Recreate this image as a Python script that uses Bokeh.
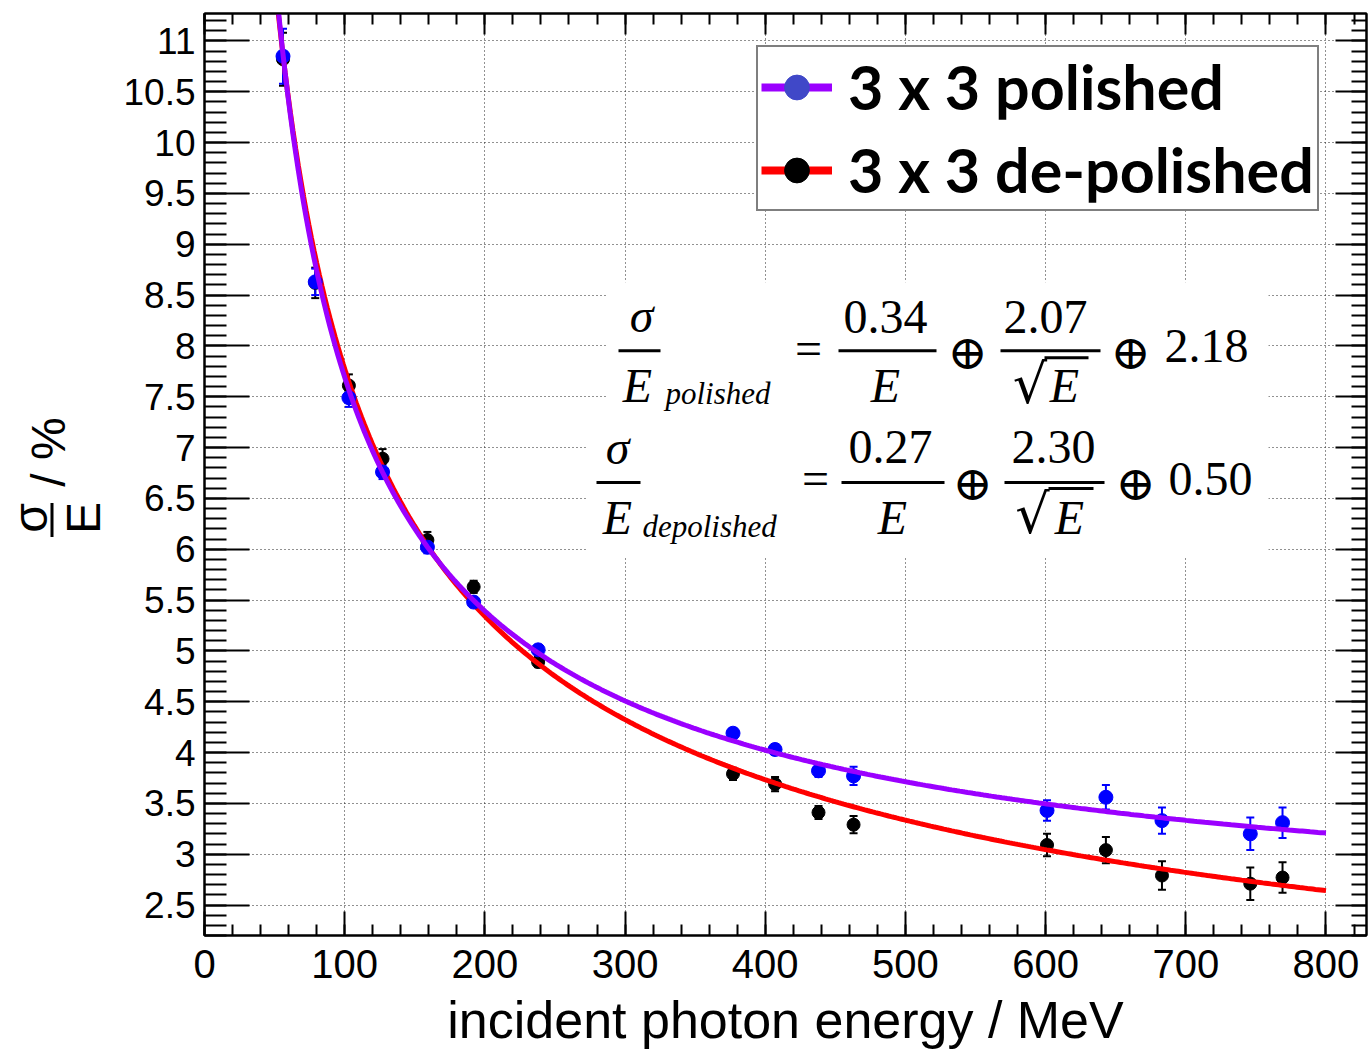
import numpy as np
from math import pi
from bokeh.plotting import figure
from bokeh.layouts import row
from bokeh.models import (Range1d, LinearAxis, FixedTicker, CustomJSTickFormatter, Whisker,
                          TeeHead, ColumnDataSource, Legend, LegendItem, Label, BoxAnnotation)
from bokeh.embed import file_html
from bokeh.resources import INLINE

# ---------------- data ----------------
energy_mev = [56, 79, 103, 127, 159, 192, 238, 377, 407, 438, 463, 601, 643, 683, 746, 769]
polished_res = [10.85, 8.63, 7.49, 6.76, 6.02, 5.48, 5.01, 4.19, 4.03, 3.82, 3.77, 3.43, 3.56, 3.33, 3.20, 3.31]
polished_err = [0.27, 0.13, 0.09, 0.07, 0.06, 0.05, 0.05, 0.05, 0.05, 0.06, 0.09, 0.10, 0.12, 0.13, 0.16, 0.15]
depolished_res = [10.82, 8.62, 7.61, 6.89, 6.09, 5.63, 4.89, 3.79, 3.69, 3.41, 3.29, 3.09, 3.04, 2.79, 2.71, 2.77]
depolished_err = [0.26, 0.15, 0.11, 0.095, 0.08, 0.06, 0.05, 0.06, 0.07, 0.065, 0.085, 0.11, 0.13, 0.14, 0.16, 0.15]

# fit parameters  sigma/E = a/E (+) b/sqrt(E) (+) c   (E in GeV)
fit_polished = [0.34, 2.07, 2.18]
fit_depolished = [0.27, 2.30, 0.50]
fit_range_mev = [50, 800]

x_ticks = [0, 100, 200, 300, 400, 500, 600, 700, 800]
x_minor_ticks = list(range(0, 841, 20))
y_ticks = [2.5, 3, 3.5, 4, 4.5, 5, 5.5, 6, 6.5, 7, 7.5, 8, 8.5, 9, 9.5, 10, 10.5, 11]
y_minor_ticks = [round(2.2 + 0.1 * i, 1) for i in range(92)]

legend_labels = ["3 x 3 polished", "3 x 3 de-polished"]
x_title = "incident photon energy / MeV"
y_title_parts = ["σ", "E", "/ %"]

# ---------------- style / geometry ----------------
PURPLE = "#9b00ff"
RED = "#ff0000"
BLUE = "#0000ff"
LEG_BLUE = "#4048c8"

W, H = 1368, 1051
LW = 110                      # width of the strip holding the y title
FL, FR, FT, FB = 204, 1366, 13, 936
X0, X1 = 0.0, 828.9
Y0, Y1 = 2.20, 11.27


def dx(px):
    return X0 + (px - FL) * (X1 - X0) / (FR - FL)


def dy(py):
    return Y1 - (py - FT) * (Y1 - Y0) / (FB - FT)


p = figure(width=W - LW, height=H, output_backend="svg", toolbar_location=None,
           x_range=Range1d(X0, X1), y_range=Range1d(Y0, Y1),
           min_border_left=FL - LW, min_border_right=W - FR, min_border_top=FT,
           min_border_bottom=H - FB, background_fill_color="white",
           border_fill_color="white")
p.outline_line_color = "black"
p.outline_line_width = 2

LABEL_FONT = "Liberation Sans"

xt = FixedTicker(ticks=x_ticks, minor_ticks=x_minor_ticks)
yt = FixedTicker(ticks=y_ticks, minor_ticks=y_minor_ticks)


def style_axis(ax):
    ax.major_tick_line_width = 2
    ax.minor_tick_line_width = 2
    ax.axis_line_width = 2
    ax.axis_line_color = "black"
    ax.major_tick_line_color = "black"
    ax.minor_tick_line_color = "black"


xa = p.xaxis[0]
xa.ticker = xt
xa.major_tick_in, xa.major_tick_out = 24, 0
xa.minor_tick_in, xa.minor_tick_out = 11, 0
style_axis(xa)
xa.major_label_text_font = LABEL_FONT
xa.major_label_text_font_size = "40px"
xa.major_label_text_color = "black"
xa.major_label_standoff = 14
xa.axis_label = x_title
xa.axis_label_text_font = LABEL_FONT
xa.axis_label_text_font_size = "52px"
xa.axis_label_text_font_style = "normal"
xa.axis_label_text_color = "black"
xa.axis_label_standoff = 10

ya = p.yaxis[0]
ya.ticker = yt
ya.formatter = CustomJSTickFormatter(code="return String(tick);")
ya.major_tick_in, ya.major_tick_out = 45, 0
ya.minor_tick_in, ya.minor_tick_out = 22, 0
style_axis(ya)
ya.major_label_text_font = LABEL_FONT
ya.major_label_text_font_size = "37px"
ya.major_label_text_color = "black"
ya.major_label_standoff = 9

top_axis = LinearAxis(ticker=xt, major_tick_in=21, major_tick_out=0, minor_tick_in=11,
                      minor_tick_out=0, major_label_text_font_size="1px",
                      major_label_text_color=None, major_label_standoff=0)
style_axis(top_axis)
p.add_layout(top_axis, "above")
right_axis = LinearAxis(ticker=yt, major_tick_in=31, major_tick_out=0, minor_tick_in=15,
                        minor_tick_out=0, major_label_text_font_size="1px",
                        major_label_text_color=None, major_label_standoff=0)
style_axis(right_axis)
p.add_layout(right_axis, "right")

for g in (p.xgrid[0], p.ygrid[0]):
    g.grid_line_color = "#222222"
    g.grid_line_dash = "1 3"
    g.grid_line_width = 1
p.xgrid[0].ticker = xt
p.ygrid[0].ticker = yt

# ---------------- data marks ----------------
def make_src(res, err):
    return ColumnDataSource(dict(
        x=energy_mev, y=res,
        upper=[v + e for v, e in zip(res, err)],
        lower=[v - e for v, e in zip(res, err)]))


src_pol = make_src(polished_res, polished_err)
src_dep = make_src(depolished_res, depolished_err)


def add_err(src, color):
    w = Whisker(source=src, base="x", upper="upper", lower="lower", dimension="height",
                line_color=color, line_width=2,
                upper_head=TeeHead(size=8, line_color=color, line_width=2),
                lower_head=TeeHead(size=8, line_color=color, line_width=2))
    p.add_layout(w)


def fit_curve(params):
    a, b, c = params
    e = np.linspace(fit_range_mev[0], fit_range_mev[1], 400)
    g = e / 1000.0
    return e, np.sqrt((a / g) ** 2 + (b / np.sqrt(g)) ** 2 + c ** 2)


add_err(src_dep, "black")
p.scatter("x", "y", source=src_dep, size=13, fill_color="black", line_color="black")
ex_d, ey_d = fit_curve(fit_depolished)
p.line(ex_d, ey_d, line_color=RED, line_width=5)

add_err(src_pol, BLUE)
p.scatter("x", "y", source=src_pol, size=14, fill_color=BLUE, line_color=BLUE)
ex_p, ey_p = fit_curve(fit_polished)
p.line(ex_p, ey_p, line_color=PURPLE, line_width=5)

# legend glyph renderers (hidden in the plot, only drawn inside the legend)
lp_line = p.line(ex_p, ey_p, line_color=PURPLE, line_width=8, visible=False)
lp_pt = p.scatter("x", "y", source=src_pol, size=25, fill_color=LEG_BLUE,
                  line_color=LEG_BLUE, visible=False)
ld_line = p.line(ex_d, ey_d, line_color=RED, line_width=8, visible=False)
ld_pt = p.scatter("x", "y", source=src_dep, size=25, fill_color="black",
                  line_color="black", visible=False)

legend = Legend(items=[LegendItem(label=legend_labels[0], renderers=[lp_line, lp_pt]),
                       LegendItem(label=legend_labels[1], renderers=[ld_line, ld_pt])],
                location=(756 - FL, FB - 212),
                label_text_font="Lato", label_text_font_style="bold",
                label_text_font_size="61px", label_text_color="black",
                glyph_width=71, glyph_height=62, label_height=62,
                label_standoff=16, spacing=10, padding=3, margin=0,
                border_line_color="black", border_line_width=2,
                background_fill_color="white", background_fill_alpha=1.0,
                inactive_fill_alpha=0.0)
p.add_layout(legend)

# ---------------- equation block ----------------
def box(fig, l, r, t, b, color, cx=dx, cy=dy):
    fig.add_layout(BoxAnnotation(left=cx(l), right=cx(r), top=cy(t), bottom=cy(b),
                                 fill_color=color, fill_alpha=1.0, line_color=None,
                                 level="annotation"))


def txt(fig, px, py, s, size, font="Liberation Serif", style="normal", align="center",
        angle=0.0, cx=dx, cy=dy):
    fig.add_layout(Label(x=cx(px), y=cy(py), text=s, text_font=font,
                         text_font_size=f"{size}px", text_font_style=style,
                         text_align=align, text_baseline="middle", text_color="black",
                         angle=angle))


box(p, 607, 1268, 282, 422, "white")
box(p, 587, 1268, 422, 557, "white")

rows = [
    dict(par=fit_polished, sub="polished", bar=(349, 352), sig=(641, 315), sbar=(618, 660),
         E=(637, 385), subp=(665, 393.5), eq=(808, 348), a=(885, 317), abar=(838, 936),
         aE=(885, 385), op1=(967, 352), b=(1045, 317), bbar=(1000, 1100),
         rad=(1029.5, 384.5), over=(1044, 1088, 356, 359), bE=(1064, 385),
         op2=(1130, 352), c=(1206, 345.5)),
    dict(par=fit_depolished, sub="depolished", bar=(481, 484), sig=(617, 447), sbar=(596, 640),
         E=(617, 518), subp=(642, 526.5), eq=(815, 479), a=(890, 447), abar=(841, 944),
         aE=(892, 518), op1=(972, 483), b=(1053, 447), bbar=(1004, 1104),
         rad=(1032, 514.5), over=(1048, 1093, 487, 490), bE=(1069, 518),
         op2=(1135, 483), c=(1210, 479.5)),
]

for r in rows:
    a, b, c = r["par"]
    t, bt = r["bar"]
    txt(p, *r["sig"], "σ", 48, style="italic")
    box(p, r["sbar"][0], r["sbar"][1], t, bt, "black")
    txt(p, *r["E"], "E", 48, style="italic")
    txt(p, *r["subp"], r["sub"], 31, style="italic", align="left")
    txt(p, *r["eq"], "=", 48)
    txt(p, *r["a"], f"{a:.2f}", 48)
    box(p, r["abar"][0], r["abar"][1], t, bt, "black")
    txt(p, *r["aE"], "E", 48, style="italic")
    txt(p, *r["op1"], "⊕", 48, font="DejaVu Serif")
    txt(p, *r["b"], f"{b:.2f}", 48)
    box(p, r["bbar"][0], r["bbar"][1], t, bt, "black")
    txt(p, *r["rad"], "√", 54, font="DejaVu Sans")
    ol, orr, ot, ob = r["over"]
    box(p, ol, orr, ot, ob, "black")
    txt(p, *r["bE"], "E", 48, style="italic")
    txt(p, *r["op2"], "⊕", 48, font="DejaVu Serif")
    txt(p, *r["c"], f"{c:.2f}", 48)

# ---------------- y title strip ----------------
# the row layout aligns this strip's frame with the main frame (rows FT..FB)
q = figure(width=LW, height=H, output_backend="svg", toolbar_location=None,
           x_range=Range1d(0, LW), y_range=Range1d(FB, FT),
           x_axis_location=None, y_axis_location=None,
           min_border_left=0, min_border_right=0,
           min_border_top=FT, min_border_bottom=H - FB,
           background_fill_color="white", border_fill_color="white")
q.outline_line_color = None
q.grid.visible = False


def ident(v):
    return v


txt(q, 30, 518, y_title_parts[0], 48, font=LABEL_FONT, angle=pi / 2, cx=ident, cy=ident)
box(q, 50, 53, 503, 537, "black", cx=ident, cy=ident)
txt(q, 83, 518, y_title_parts[1], 48, font=LABEL_FONT, angle=pi / 2, cx=ident, cy=ident)
txt(q, 48, 452, y_title_parts[2], 48, font=LABEL_FONT, angle=pi / 2, cx=ident, cy=ident)

layout = row(q, p)
open("out.html", "w").write(file_html(layout, INLINE))
